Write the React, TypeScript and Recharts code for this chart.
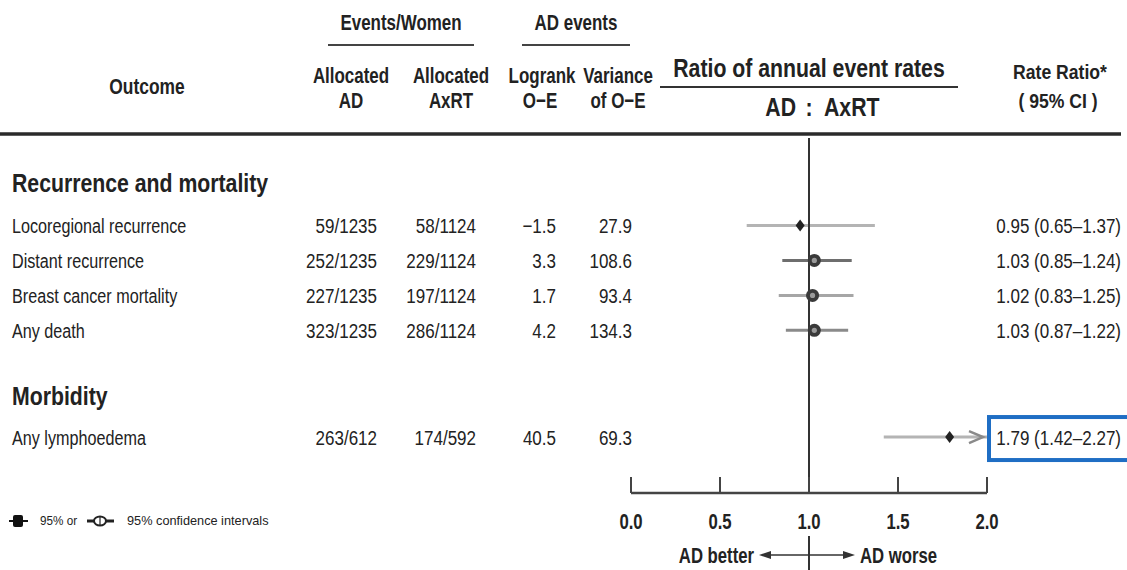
import React from 'react';
import { ComposedChart, XAxis, YAxis, Scatter, ReferenceLine } from 'recharts';

// ---------- data ----------
const sections = ['Recurrence and mortality', 'Morbidity'];
const outcomes = [
  'Locoregional recurrence',
  'Distant recurrence',
  'Breast cancer mortality',
  'Any death',
  'Any lymphoedema',
];
const eventsAD = ['59/1235', '252/1235', '227/1235', '323/1235', '263/612'];
const eventsAxRT = ['58/1124', '229/1124', '197/1124', '286/1124', '174/592'];
const logrankOE = ['\u22121.5', '3.3', '1.7', '4.2', '40.5'];
const varianceOE = ['27.9', '108.6', '93.4', '134.3', '69.3'];
const rateRatio = [0.95, 1.03, 1.02, 1.03, 1.79];
const ciLow = [0.65, 0.85, 0.83, 0.87, 1.42];
const ciHigh = [1.37, 1.24, 1.25, 1.22, 2.27];
const markerType = ['solid', 'open', 'open', 'open', 'solid'];
const xTicks = [0, 0.5, 1, 1.5, 2];

// ---------- layout / style ----------
const rowPos = [1, 2, 3, 4, 7.05];
const sectionPos = [-0.25, 5.85];
const X_DOMAIN: [number, number] = [0, 2];
const Y_DOMAIN: [number, number] = [-1.5, 8.65];
const HIGHLIGHT_ROW = 4;
const CI_COLORS = ['#b4b4b4', '#6e6e6e', '#a6a6a6', '#8a8a8a', '#b4b4b4'];
const FONT = '"Liberation Sans", Arial, Helvetica, sans-serif';
const INK = '#222';

// condensed text helper (horizontal squeeze of the glyphs)
const T = (p: any) => {
  const { x, y, size, sx = 1, anchor = 'start', bold = false, children, fill = INK } = p;
  return (
    <text
      transform={`translate(${x},${y}) scale(${sx},1)`}
      x={0}
      y={0}
      fontSize={size}
      textAnchor={anchor}
      fontWeight={bold ? 'bold' : 'normal'}
      fill={fill}
      fontFamily={FONT}
    >
      {children}
    </text>
  );
};

const tableRows = [
  ...sections.map((_, i) => ({ x: 0, y: sectionPos[i], kind: 'section', i })),
  ...outcomes.map((_, i) => ({ x: 0, y: rowPos[i], kind: 'outcome', i })),
];
const pointData = rateRatio.map((v, i) => ({ x: v, y: rowPos[i], i }));
const overflowData = ciHigh
  .map((h, i) => ({ x: X_DOMAIN[1], y: rowPos[i], i, h }))
  .filter((d) => d.h > X_DOMAIN[1]);

const fmtRR = (i: number) =>
  `${rateRatio[i].toFixed(2)} (${ciLow[i].toFixed(2)}\u2013${ciHigh[i].toFixed(2)})`;

const TableRow = (props: any) => {
  const { cy, payload } = props;
  if (cy == null || !payload) return null;
  const i = payload.i;
  if (payload.kind === 'section') {
    return (
      <T x={12} y={cy + 10} size={25} sx={0.85} bold>
        {sections[i]}
      </T>
    );
  }
  const b = cy + 7.5;
  return (
    <g>
      <T x={12} y={b} size={21} sx={0.77}>{outcomes[i]}</T>
      <T x={377} y={b} size={21} sx={0.81} anchor="end">{eventsAD[i]}</T>
      <T x={476} y={b} size={21} sx={0.81} anchor="end">{eventsAxRT[i]}</T>
      <T x={556} y={b} size={21} sx={0.81} anchor="end">{logrankOE[i]}</T>
      <T x={632} y={b} size={21} sx={0.81} anchor="end">{varianceOE[i]}</T>
      {i === HIGHLIGHT_ROW && (
        <rect x={989} y={cy - 20} width={150} height={43} fill="none" stroke="#1f6ec4" strokeWidth={4} />
      )}
      <T x={1121} y={b} size={21} sx={0.81} anchor="end">{fmtRR(i)}</T>
    </g>
  );
};

const Marker = (props: any) => {
  const { cx, cy, payload } = props;
  if (cx == null) return null;
  if (markerType[payload.i] === 'solid') {
    return (
      <polygon
        points={`${cx},${cy - 6} ${cx + 4.5},${cy} ${cx},${cy + 6} ${cx - 4.5},${cy}`}
        fill="#222"
      />
    );
  }
  return (
    <g>
      <circle cx={cx} cy={cy} r={6.5} fill="#3a3a3a" />
      <circle cx={cx} cy={cy} r={2.6} fill="#9a9a9a" />
    </g>
  );
};

const OverflowArrow = (props: any) => {
  const { cx, cy } = props;
  if (cx == null) return null;
  return (
    <path
      d={`M${cx - 18},${cy - 6} L${cx - 4},${cy} L${cx - 18},${cy + 6}`}
      fill="none"
      stroke="#8a8a8a"
      strokeWidth={2.5}
    />
  );
};

const AxisTick = (props: any) => {
  const { x, y, payload } = props;
  const v = payload.value as number;
  return (
    <g>
      <line x1={x} x2={x} y1={y} y2={y - 16} stroke="#444" strokeWidth={2} />
      <T x={x} y={y + 36} size={22} sx={0.76} bold anchor="middle">
        {v.toFixed(1)}
      </T>
      {v === 1 && (
        <g>
          <line x1={x} x2={x} y1={y + 43} y2={y + 82} stroke="#333" strokeWidth={2} />
          <line x1={x - 42} x2={x + 38} y1={y + 62} y2={y + 62} stroke="#333" strokeWidth={1.6} />
          <polygon points={`${x - 50},${y + 62} ${x - 38},${y + 58} ${x - 38},${y + 66}`} fill="#333" />
          <polygon points={`${x + 46},${y + 62} ${x + 34},${y + 58} ${x + 34},${y + 66}`} fill="#333" />
          <T x={x - 55} y={y + 70} size={22} sx={0.76} bold anchor="end">AD better</T>
          <T x={x + 51} y={y + 70} size={22} sx={0.76} bold anchor="start">AD worse</T>
        </g>
      )}
    </g>
  );
};

const Header = () => (
  <svg width={1127} height={570} style={{ position: 'absolute', left: 0, top: 0, pointerEvents: 'none' }}>
    <T x={147} y={94} size={22} sx={0.79} bold anchor="middle">Outcome</T>

    <T x={401} y={30} size={22} sx={0.77} bold anchor="middle">Events/Women</T>
    <line x1={328} x2={474} y1={45} y2={45} stroke="#444" strokeWidth={2} />
    <T x={576} y={30} size={22} sx={0.77} bold anchor="middle">AD events</T>
    <line x1={522} x2={630} y1={45} y2={45} stroke="#444" strokeWidth={2} />

    <T x={351} y={83} size={22} sx={0.77} bold anchor="middle">Allocated</T>
    <T x={351} y={108} size={22} sx={0.77} bold anchor="middle">AD</T>
    <T x={451} y={83} size={22} sx={0.77} bold anchor="middle">Allocated</T>
    <T x={451} y={108} size={22} sx={0.77} bold anchor="middle">AxRT</T>
    <T x={542} y={83} size={22} sx={0.77} bold anchor="middle">Logrank</T>
    <T x={540} y={108} size={22} sx={0.77} bold anchor="middle">O{'\u2212'}E</T>
    <T x={618} y={83} size={22} sx={0.77} bold anchor="middle">Variance</T>
    <T x={618} y={108} size={22} sx={0.77} bold anchor="middle">of O{'\u2212'}E</T>

    <T x={809} y={77} size={25} sx={0.85} bold anchor="middle">Ratio of annual event rates</T>
    <line x1={660} x2={958} y1={87} y2={87} stroke="#333" strokeWidth={2} />
    <T x={796} y={116} size={25} sx={0.85} bold anchor="end">AD</T>
    <T x={809} y={116} size={25} sx={0.85} bold anchor="middle">:</T>
    <T x={824} y={116} size={25} sx={0.85} bold anchor="start">AxRT</T>

    <T x={1060} y={79} size={20} sx={0.88} bold anchor="middle">Rate Ratio*</T>
    <T x={1058} y={108} size={20} sx={0.88} bold anchor="middle">( 95% CI )</T>

    <line x1={0} x2={1121} y1={134} y2={134} stroke="#2a2a2a" strokeWidth={3.5} />

    {/* legend */}
    <line x1={9} x2={28} y1={521} y2={521} stroke="#111" strokeWidth={2} />
    <rect x={13} y={515} width={10} height={12} rx={2} fill="#111" />
    <T x={40} y={525} size={13} sx={0.9}>95% or</T>
    <line x1={87} x2={114} y1={521} y2={521} stroke="#222" strokeWidth={3} />
    <ellipse cx={100} cy={521} rx={6} ry={4.5} fill="#fff" stroke="#222" strokeWidth={2} />
    <line x1={100} x2={100} y1={517} y2={525} stroke="#222" strokeWidth={1.2} />
    <T x={127} y={525} size={13} sx={0.98}>95% confidence intervals</T>
  </svg>
);

export default function App() {
  return (
    <div style={{ position: 'absolute', left: 0, top: 0, width: 1127, height: 570, background: '#fff' }}>
      <ComposedChart width={1127} height={570} margin={{ top: 138, right: 140, bottom: 47, left: 631 }}>
        <XAxis
          type="number"
          dataKey="x"
          domain={X_DOMAIN}
          ticks={xTicks}
          height={30}
          tickLine={false}
          tickSize={0}
          tickMargin={0}
          axisLine={{ stroke: '#444', strokeWidth: 2.5 }}
          tick={<AxisTick />}
          interval={0}
        />
        <YAxis type="number" dataKey="y" domain={Y_DOMAIN} reversed hide />
        {ciLow.map((lo, i) => (
          <ReferenceLine
            key={`ci-${i}`}
            segment={[
              { x: lo, y: rowPos[i] },
              { x: Math.min(ciHigh[i], X_DOMAIN[1]), y: rowPos[i] },
            ]}
            stroke={CI_COLORS[i]}
            strokeWidth={3}
          />
        ))}
        <ReferenceLine x={1} stroke="#333" strokeWidth={2} />
        <Scatter data={tableRows} shape={<TableRow />} isAnimationActive={false} />
        <Scatter data={overflowData} shape={<OverflowArrow />} isAnimationActive={false} />
        <Scatter data={pointData} shape={<Marker />} isAnimationActive={false} />
      </ComposedChart>
      <Header />
    </div>
  );
}
